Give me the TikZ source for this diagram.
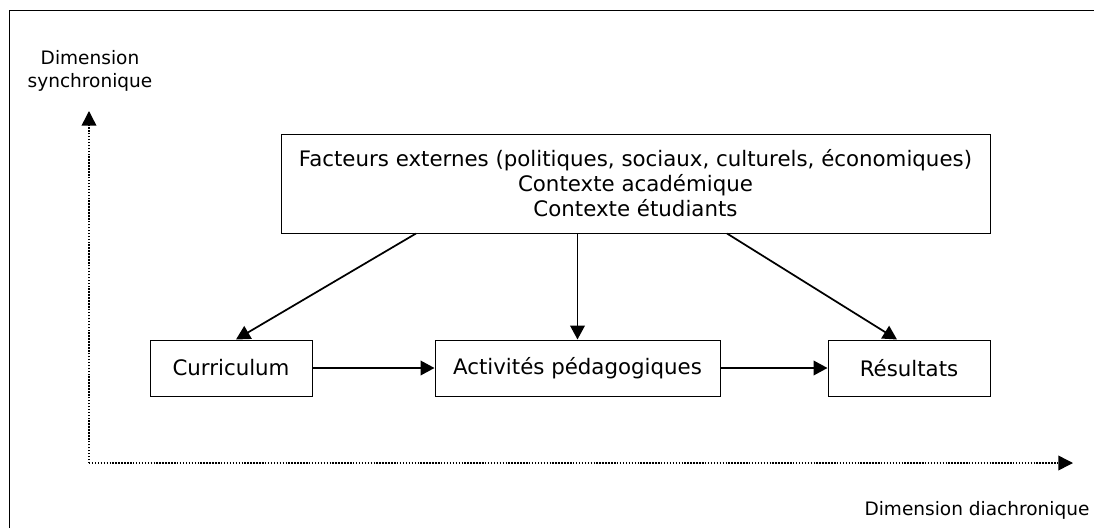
\documentclass[tikz,border=0pt]{standalone}
\usepackage{fontspec}
\setmainfont{DejaVu Sans}
\usetikzlibrary{arrows.meta,calc}

\tikzset{
  box/.style={draw, line width=0.75pt, inner sep=0pt, align=center,
    font=\fontsize{16}{18.8}\selectfont},
  flow/.style={line width=1.3pt, -{Triangle[length=10.5pt,width=11pt]}},
  axis/.style={line width=1.1pt, dash pattern=on 1.1pt off 1.1pt,
    -{Triangle[length=11pt,width=11pt]}},
  axislabel/.style={align=center, inner sep=0pt,
    font=\fontsize{13.9}{17}\selectfont}
}

\begin{document}
\begin{tikzpicture}[x=0.75pt, y=-0.75pt]
  \useasboundingbox (0,0) rectangle (1094,528);

  % Frame round the figure
  \draw[line width=0.75pt] (9,528) -- (9,11) -- (1094,11);

  % The two dimensions
  \coordinate (orig) at (89,463);
  \coordinate (ytip) at (89,111);
  \coordinate (xtip) at (1073,463);
  \draw[axis] (orig) -- (ytip);
  \draw[axis] (orig) -- (xtip);
  \node[axislabel] (synlab) at (90,71) {Dimension\\synchronique};
  \node[axislabel] (diachlab) at (977,510) {Dimension diachronique};

  % Boxes
  \node[box, minimum width=709*0.75pt, minimum height=99*0.75pt] (facteurs) at (635.5,183.5)
    {Facteurs externes (politiques, sociaux, culturels, économiques)\\Contexte académique\\Contexte étudiants};
  \node[box, minimum width=162*0.75pt, minimum height=56*0.75pt] (curr) at (231,368) {Curriculum};
  \node[box, minimum width=285*0.75pt, minimum height=56*0.75pt] (activ) at (577.5,368) {Activités pédagogiques};
  \node[box, minimum width=162*0.75pt, minimum height=56*0.75pt] (result) at (909,368) {Résultats};

  % Arrows
  \draw[flow] ($(facteurs.south)+(-219.5,0)$) -- ($(curr.north)+(5,0)$);
  \draw[flow] (facteurs.south -| activ.north) -- (activ.north);
  \draw[flow] ($(facteurs.south)+(91.5,0)$) -- ($(result.north)+(-12,0)$);
  \draw[flow] (curr) -- (activ);
  \draw[flow] (activ) -- (result);
\end{tikzpicture}
\end{document}
